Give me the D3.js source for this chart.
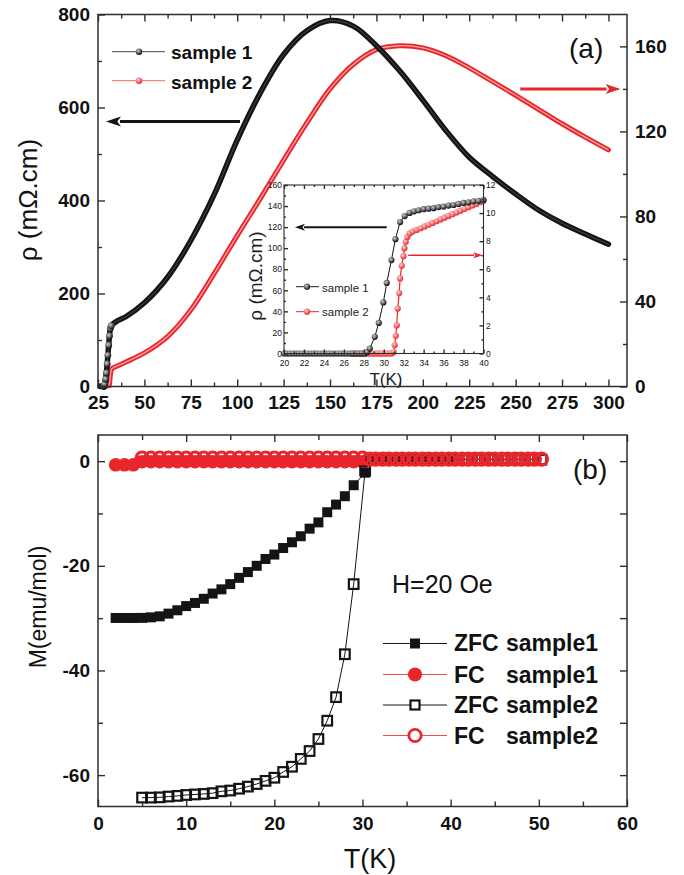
<!DOCTYPE html>
<html><head><meta charset="utf-8">
<script src="https://cdn.jsdelivr.net/npm/d3@7"></script>
<style>body{margin:0;background:#fff}svg{display:block}text{font-family:"Liberation Sans",Arial,Helvetica,sans-serif}</style>
</head><body><svg id="c" width="684" height="875"></svg>
<script>
// ---------- DATA ----------
// Panel (a): resistivity, sample 1 (left axis, mOhm.cm)
const mainT1 = [26,27,28.1,28.35,28.6,29.1,29.5,29.96,30.3,30.77,31.17,31.64,32.1,35,40,50,62.5,75,87.5,100,112.5,125,137.5,150,162.5,175,187.5,200,212.5,225,237.5,250,262.5,275,287.5,300];
const mainRho1 = [0,0,0,1.5,4.7,15.8,29,48.5,67,88.7,108.6,124.8,130.5,140,150,180,235,314,412,530,632,714,765,787,775,733,679,616,550,493,452,414,379,351,328,306];
// Panel (a): resistivity, sample 2 (right axis)
const mainT2 = [26,28,30,31,31.1,31.3,31.55,31.8,32.07,32.4,33.3,40,50,62.5,75,87.5,100,112.5,125,137.5,150,162.5,175,187.5,200,212.5,225,237.5,250,262.5,275,287.5,300];
const mainRho2 = [0.4,0.4,0.4,0.4,0.6,2,4.3,6.25,7.5,8.3,8.8,11.5,15.8,23.5,36,53,71,88.5,106.5,124,140,151.5,158.5,160.3,159.3,155.6,149.9,143.5,137.0,130.3,123.6,117.3,111.3];
// Inset: sample 1 (left axis)
const insT1 = [20.0,20.3,20.6,20.9,21.2,21.5,21.8,22.1,22.4,22.7,23.0,23.3,23.6,23.9,24.2,24.5,24.8,25.1,25.4,25.7,26.0,26.3,26.6,26.9,27.2,27.5,27.8,28.1,28.35,28.6,29.1,29.5,29.96,30.3,30.77,31.17,31.64,32.1,32.6,33.05,33.5,34.0,34.5,35.0,35.5,36.0,36.5,37.0,37.5,38.0,38.5,39.0,39.5,40.0];
const insRho1 = [0,0,0,0,0,0,0,0,0,0,0,0,0,0,0,0,0,0,0,0,0,0,0,0,0,0,0,0,1.5,4.7,15.8,29,48.5,67,88.7,108.6,124.8,130.5,133.5,135,136,137,137.5,138,139,139.5,140.5,141,142,143,143.5,144.5,145,146];
// Inset: sample 2 (right axis)
const insT2 = [26.8,27.0,27.2,27.4,27.6,27.8,28.0,28.2,28.4,28.6,28.8,29.0,29.2,29.4,29.6,29.8,30.0,30.2,30.4,30.6,30.8,31.0,31.1,31.2,31.3,31.4,31.55,31.64,31.8,31.97,32.07,32.2,32.37,32.6,32.9,33.3,33.7,34.1,34.5,34.9,35.3,35.7,36.1,36.5,36.9,37.3,37.7,38.1,38.5,38.9,39.3,39.7,40.0];
const insRho2 = [0,0,0,0,0,0,0,0,0,0,0,0,0,0,0,0,0,0,0,0,0,0.1,0.6,1.26,2.0,3.2,4.3,5.35,6.25,6.93,7.5,7.95,8.3,8.55,8.68,8.8,8.92,9.05,9.17,9.3,9.42,9.55,9.67,9.8,9.92,10.04,10.17,10.29,10.42,10.54,10.66,10.79,10.88];
// Panel (b): magnetisation
const zfc1T = [2,3,4,5,6,7,8,9,10,11,12,13,14,15,16,17,18,19,20,21,22,23,24,25,26,27,28,29,30.3,30.8,31.5,32.3,33.0,33.8,34.5,35.3,36.0,36.8,37.5,38.3,39.0,39.8];
const zfc1M = [-29.97,-29.97,-29.97,-29.95,-29.85,-29.66,-29.14,-28.5,-27.7,-27.1,-26.3,-25.3,-24.5,-23.5,-22.3,-21.2,-20.0,-18.7,-17.85,-16.6,-15.5,-14.35,-12.9,-11.7,-9.76,-8.3,-6.7,-4.6,-2.2,0.3,0.3,0.3,0.3,0.3,0.3,0.3,0.3,0.3,0.3,0.3,0.3,0.3];
const fc1T = [2,3,4,5,6,7,8,9,10,11,12,13,14,15,16,17,18,19,20,21,22,23,24,25,26,27,28,29,30];
const fc1M = [-0.7,-0.7,-0.7,-0.1,-0.1,-0.1,-0.1,-0.1,-0.1,-0.1,-0.1,-0.1,-0.1,-0.1,-0.1,-0.1,-0.1,-0.1,-0.1,-0.1,-0.1,-0.1,-0.1,-0.1,-0.1,-0.1,-0.1,-0.1,-0.1];
const zfc2T = [5,6,7,8,9,10,11,12,13,14,15,16,17,18,19,20,21,22,23,24,25,26,27,28,29,30.3,30.8,31.5,32.3,33.0,33.8,34.5,35.3,36.0,36.8,37.5,38.3,39.0,39.8,40.5,41.3,42.0,42.8,43.5,44.3,45.0,45.8,46.5,47.3,48.0,48.8,49.5,50.3];
const zfc2M = [-64.3,-64.3,-64.25,-64.1,-63.97,-63.8,-63.7,-63.6,-63.45,-63.1,-62.95,-62.6,-62.2,-61.7,-61.1,-60.5,-59.4,-58.4,-56.9,-55.4,-53.1,-49.6,-45.1,-36.9,-23.5,-1.8,0.3,0.3,0.3,0.3,0.3,0.3,0.3,0.3,0.3,0.3,0.3,0.3,0.3,0.3,0.3,0.3,0.3,0.3,0.3,0.3,0.3,0.3,0.3,0.3,0.3,0.3,0.3];
const fc2T = [5,6,7,8,9,10,11,12,13,14,15,16,17,18,19,20,21,22,23,24,25,26,27,28,29,30,30.8,31.5,32.3,33.0,33.8,34.5,35.3,36.0,36.8,37.5,38.3,39.0,39.8,40.5,41.3,42.0,42.8,43.5,44.3,45.0,45.8,46.5,47.3,48.0,48.8,49.5,50.3];
const fc2M = [0.6,0.6,0.6,0.6,0.6,0.6,0.6,0.6,0.6,0.6,0.6,0.6,0.6,0.6,0.6,0.6,0.6,0.6,0.6,0.6,0.6,0.6,0.6,0.6,0.6,0.6,0.4,0.4,0.4,0.4,0.4,0.4,0.4,0.4,0.4,0.4,0.4,0.4,0.4,0.4,0.4,0.4,0.4,0.4,0.4,0.4,0.4,0.4,0.4,0.4,0.4,0.4,0.4];
// Tick values
const aXMajor = [25,50,75,100,125,150,175,200,225,250,275,300];
const aXMinor = [37.5,62.5,87.5,112.5,137.5,162.5,187.5,212.5,237.5,262.5,287.5];
const aYLMajor = [0,200,400,600,800], aYLMinor = [100,300,500,700];
const aYRMajor = [0,40,80,120,160], aYRMinor = [20,60,100,140];
const iXMajor = [20,22,24,26,28,30,32,34,36,38,40], iXMinor = [21,23,25,27,29,31,33,35,37,39];
const iYLMajor = [0,20,40,60,80,100,120,140,160], iYLMinor = [10,30,50,70,90,110,130,150];
const iYRMajor = [0,2,4,6,8,10,12], iYRMinor = [1,3,5,7,9,11];
const bXMajor = [0,10,20,30,40,50,60], bXMinor = [5,15,25,35,45,55];
const bYMajor = [0,-20,-40,-60], bYMinor = [-10,-30,-50];
const legendA = ["sample 1","sample 2"];
const legendB = [["ZFC","sample1"],["FC","sample1"],["ZFC","sample2"],["FC","sample2"]];

// ---------- SETUP ----------
const svg = d3.select("#c");
const RED = "#e8262b", INK = "#141414", FRAME = "#2e2e2e";
const defs = svg.append("defs");
function sphere(id,c0,c1){const g=defs.append("radialGradient").attr("id",id).attr("cx","38%").attr("cy","35%").attr("r","65%");g.append("stop").attr("offset","0%").attr("stop-color",c0);g.append("stop").attr("offset","100%").attr("stop-color",c1);}
sphere("gBlack","#cfcfcf","#0d0d0d");
sphere("gRed","#ffd4d4","#e8262b");

function axis(g, gen, scale, vals, len, fmt, pad, size, weight){
  const a = gen(scale).tickValues(vals).tickSizeInner(-len).tickSizeOuter(0).tickPadding(pad).tickFormat(fmt||(()=>""));
  g.call(a);
  g.select(".domain").remove();
  g.selectAll(".tick line").attr("stroke",FRAME).attr("stroke-width",1.4);
  g.selectAll(".tick text").attr("fill","#111").style("font-size",size+"px").style("font-weight",weight||"bold").attr("font-family",null);
  return g;
}
function arrow(g,x1,y1,x2,y2,color,w,hl,hw){
  const dx=x2-x1, dy=y2-y1, L=Math.hypot(dx,dy), ux=dx/L, uy=dy/L;
  const bx=x2-ux*hl, by=y2-uy*hl;
  g.append("line").attr("x1",x1).attr("y1",y1).attr("x2",bx+ux*1).attr("y2",by+uy*1).attr("stroke",color).attr("stroke-width",w);
  g.append("path").attr("d",`M${x2},${y2}L${bx-uy*hw/2},${by+ux*hw/2}L${bx+ux*hl*0.25},${by+uy*hl*0.25}L${bx+uy*hw/2},${by-ux*hw/2}Z`).attr("fill",color);
}

// ---------- PANEL (a) ----------
const A = {l:98,r:627,t:14.5,b:386.5};
const xA = d3.scaleLinear().domain([25,310]).range([A.l,A.r]);
const yAL = d3.scaleLinear().domain([0,800]).range([A.b,A.t]);
const yAR = d3.scaleLinear().domain([0,175]).range([A.b,A.t]);
const gA = svg.append("g");

const d1 = mainT1.map((t,i)=>[t,mainRho1[i]]);
const d2 = mainT2.map((t,i)=>[t,mainRho2[i]]);
const line1 = d3.line().x(d=>xA(d[0])).y(d=>yAL(d[1])).curve(d3.curveCatmullRom.alpha(0.5));
const line2 = d3.line().x(d=>xA(d[0])).y(d=>yAR(d[1])).curve(d3.curveCatmullRom.alpha(0.5));
gA.append("path").attr("d",line2(d2)).attr("fill","none").attr("stroke",RED).attr("stroke-width",5).attr("stroke-linejoin","round").attr("stroke-linecap","round");
gA.append("path").attr("d",line2(d2)).attr("fill","none").attr("stroke","#f6a3a3").attr("stroke-width",1.3);
gA.append("path").attr("d",line1(d1)).attr("fill","none").attr("stroke",INK).attr("stroke-width",5.5).attr("stroke-linejoin","round").attr("stroke-linecap","round");
gA.append("path").attr("d",line1(d1)).attr("fill","none").attr("stroke","#555").attr("stroke-width",0.8);
gA.selectAll(".m1").data(d1.filter(d=>d[0]>28 && d[0]<32.5)).join("circle").attr("cx",d=>xA(d[0])).attr("cy",d=>yAL(d[1])).attr("r",3.4).attr("fill","url(#gBlack)");

// legend (a)
[[0,"#444","url(#gBlack)",51.7,59],[1,"#f06a6a","url(#gRed)",80.7,89]].forEach(([i,lc,f,ym,yb])=>{
  gA.append("line").attr("x1",112).attr("x2",165).attr("y1",ym).attr("y2",ym).attr("stroke",lc).attr("stroke-width",1);
  gA.append("circle").attr("cx",139).attr("cy",ym).attr("r",3.2).attr("fill",f);
  gA.append("text").attr("x",171).attr("y",yb).text(legendA[i]).style("font-size","19px").style("font-weight","bold").attr("fill","#111");
});
// arrows (a)
arrow(gA, xA(101.5), yAL(570), xA(29.3), yAL(570), INK, 3, 15, 10);
arrow(gA, xA(252.5), yAR(140), xA(306.5), yAR(140), RED, 3, 15, 10);
gA.append("text").attr("x",569).attr("y",58).text("(a)").style("font-size","28px").attr("fill","#111");

// ---------- INSET ----------
const I = {l:284,r:483.5,t:185,b:353.5};
const xI = d3.scaleLinear().domain([20,40]).range([I.l,I.r]);
const yIL = d3.scaleLinear().domain([0,160]).range([I.b,I.t]);
const yIR = d3.scaleLinear().domain([0,12]).range([I.b,I.t]);
const gI = svg.append("g");
gI.append("rect").attr("x",I.l).attr("y",I.t).attr("width",I.r-I.l).attr("height",I.b-I.t).attr("fill","#fff");
const i1 = insT1.map((t,i)=>[t,insRho1[i]]);
const i2 = insT2.map((t,i)=>[t,insRho2[i]]);
gI.append("path").attr("d",d3.line().x(d=>xI(d[0])).y(d=>yIR(d[1]))(i2)).attr("fill","none").attr("stroke",RED).attr("stroke-width",1.2);
gI.selectAll(".r2").data(i2).join("circle").attr("cx",d=>xI(d[0])).attr("cy",d=>yIR(d[1])).attr("r",3.1).attr("fill","url(#gRed)");
gI.append("path").attr("d",d3.line().x(d=>xI(d[0])).y(d=>yIL(d[1]))(i1)).attr("fill","none").attr("stroke",INK).attr("stroke-width",1);
gI.selectAll(".r1").data(i1).join("circle").attr("cx",d=>xI(d[0])).attr("cy",d=>yIL(d[1])).attr("r",3.1).attr("fill","url(#gBlack)");
// inset axes
axis(gI.append("g").attr("transform",`translate(0,${I.b})`), d3.axisBottom, xI, iXMajor, 4, d3.format("d"), 6.5, 8.5, "normal");
axis(gI.append("g").attr("transform",`translate(0,${I.b})`), d3.axisBottom, xI, iXMinor, 2);
axis(gI.append("g").attr("transform",`translate(0,${I.t})`), d3.axisTop, xI, iXMajor, 4);
axis(gI.append("g").attr("transform",`translate(0,${I.t})`), d3.axisTop, xI, iXMinor, 2);
axis(gI.append("g").attr("transform",`translate(${I.l},0)`), d3.axisLeft, yIL, iYLMajor, 4, d3.format("d"), 2, 8.5, "normal");
axis(gI.append("g").attr("transform",`translate(${I.l},0)`), d3.axisLeft, yIL, iYLMinor, 2);
axis(gI.append("g").attr("transform",`translate(${I.r},0)`), d3.axisRight, yIR, iYRMajor, 4, d3.format("d"), 2.5, 8.5, "normal");
axis(gI.append("g").attr("transform",`translate(${I.r},0)`), d3.axisRight, yIR, iYRMinor, 2);
gI.append("rect").attr("x",I.l).attr("y",I.t).attr("width",I.r-I.l).attr("height",I.b-I.t).attr("fill","none").attr("stroke",FRAME).attr("stroke-width",1.1);
// inset legend
[[0,"#222","url(#gBlack)",286.7,291.5],[1,RED,"url(#gRed)",311.7,316]].forEach(([i,lc,f,ym,yb])=>{
  gI.append("line").attr("x1",296).attr("x2",319).attr("y1",ym).attr("y2",ym).attr("stroke",lc).attr("stroke-width",1);
  gI.append("circle").attr("cx",307).attr("cy",ym).attr("r",3.1).attr("fill",f);
  gI.append("text").attr("x",322).attr("y",yb).text(legendA[i]).style("font-size","11.5px").attr("fill","#222");
});
arrow(gI, xI(30.3), yIL(120), xI(21.1), yIL(120), INK, 2, 10, 7);
arrow(gI, xI(32.45), yIR(7), xI(39.95), yIR(7), RED, 1.5, 10, 6);
gI.append("text").attr("x",386).attr("y",385).attr("text-anchor","middle").text("T(K)").style("font-size","17px").attr("fill","#222");
gI.append("text").attr("transform","translate(262,276) rotate(-90)").attr("text-anchor","middle").text("ρ (mΩ.cm)").style("font-size","19px").attr("fill","#222");

// panel (a) axes & frame
axis(gA.append("g").attr("transform",`translate(0,${A.b})`), d3.axisBottom, xA, aXMajor, 7, d3.format("d"), 9.5, 19);
axis(gA.append("g").attr("transform",`translate(0,${A.b})`), d3.axisBottom, xA, aXMinor, 4);
axis(gA.append("g").attr("transform",`translate(0,${A.t})`), d3.axisTop, xA, aXMajor, 7);
axis(gA.append("g").attr("transform",`translate(0,${A.t})`), d3.axisTop, xA, aXMinor, 4);
axis(gA.append("g").attr("transform",`translate(${A.l},0)`), d3.axisLeft, yAL, aYLMajor, 7, d3.format("d"), 8, 19);
axis(gA.append("g").attr("transform",`translate(${A.l},0)`), d3.axisLeft, yAL, aYLMinor, 4);
axis(gA.append("g").attr("transform",`translate(${A.r},0)`), d3.axisRight, yAR, aYRMajor, 7, d3.format("d"), 8, 19);
axis(gA.append("g").attr("transform",`translate(${A.r},0)`), d3.axisRight, yAR, aYRMinor, 4);
gA.append("rect").attr("x",A.l).attr("y",A.t).attr("width",A.r-A.l).attr("height",A.b-A.t).attr("fill","none").attr("stroke",FRAME).attr("stroke-width",1.5);
gA.append("text").attr("transform","translate(37,200) rotate(-90)").attr("text-anchor","middle").text("ρ (mΩ.cm)").style("font-size","26px").attr("fill","#111");

// ---------- PANEL (b) ----------
const B = {l:98,r:627,t:435,b:806.5};
const xB = d3.scaleLinear().domain([0,60]).range([B.l,B.r]);
const yB = d3.scaleLinear().domain([-66,5]).range([B.b,B.t]);
const gB = svg.append("g");
const lineB = d3.line().x(d=>xB(d[0])).y(d=>yB(d[1]));
const sFC1 = fc1T.map((t,i)=>[t,fc1M[i]]);
const sZ1 = zfc1T.map((t,i)=>[t,zfc1M[i]]);
const sZ2 = zfc2T.map((t,i)=>[t,zfc2M[i]]);
const sFC2 = fc2T.map((t,i)=>[t,fc2M[i]]);
gB.append("path").attr("d",lineB(sFC1)).attr("fill","none").attr("stroke",RED).attr("stroke-width",1);
gB.selectAll(".fc1").data(sFC1).join("circle").attr("cx",d=>xB(d[0])).attr("cy",d=>yB(d[1])).attr("r",6.8).attr("fill",RED);
gB.append("path").attr("d",lineB(sZ1)).attr("fill","none").attr("stroke",INK).attr("stroke-width",1);
gB.selectAll(".z1").data(sZ1).join("rect").attr("x",d=>xB(d[0])-5).attr("y",d=>yB(d[1])-5).attr("width",10).attr("height",10).attr("fill",INK);
gB.append("path").attr("d",lineB(sZ2)).attr("fill","none").attr("stroke",INK).attr("stroke-width",1);
gB.selectAll(".z2").data(sZ2).join("rect").attr("x",d=>xB(d[0])-4.8).attr("y",d=>yB(d[1])-4.8).attr("width",9.6).attr("height",9.6).attr("fill","none").attr("stroke",INK).attr("stroke-width",2.2);
gB.append("path").attr("d",lineB(sFC2)).attr("fill","none").attr("stroke",RED).attr("stroke-width",1);
gB.selectAll(".fc2").data(sFC2).join("circle").attr("cx",d=>xB(d[0])).attr("cy",d=>yB(d[1])).attr("r",6.0).attr("fill","none").attr("stroke",RED).attr("stroke-width",3.2);

axis(gB.append("g").attr("transform",`translate(0,${B.b})`), d3.axisBottom, xB, bXMajor, 7, d3.format("d"), 10, 19);
axis(gB.append("g").attr("transform",`translate(0,${B.b})`), d3.axisBottom, xB, bXMinor, 5);
axis(gB.append("g").attr("transform",`translate(0,${B.t})`), d3.axisTop, xB, bXMajor, 7);
axis(gB.append("g").attr("transform",`translate(0,${B.t})`), d3.axisTop, xB, bXMinor, 5);
axis(gB.append("g").attr("transform",`translate(${B.l},0)`), d3.axisLeft, yB, bYMajor, 7, d3.format("d"), 8, 19);
axis(gB.append("g").attr("transform",`translate(${B.l},0)`), d3.axisLeft, yB, bYMinor, 5);
axis(gB.append("g").attr("transform",`translate(${B.r},0)`), d3.axisRight, yB, bYMajor, 7);
axis(gB.append("g").attr("transform",`translate(${B.r},0)`), d3.axisRight, yB, bYMinor, 7);
gB.append("rect").attr("x",B.l).attr("y",B.t).attr("width",B.r-B.l).attr("height",B.b-B.t).attr("fill","none").attr("stroke",FRAME).attr("stroke-width",1.5);
gB.selectAll(".tick text").text(function(){return this.textContent.replace("−","-");});

gB.append("text").attr("transform","translate(46,607) rotate(-90)").attr("text-anchor","middle").text("M(emu/mol)").style("font-size","23px").attr("fill","#111");
gB.append("text").attr("x",370).attr("y",868).attr("text-anchor","middle").text("T(K)").style("font-size","27px").attr("fill","#111");
gB.append("text").attr("x",573).attr("y",479).text("(b)").style("font-size","28px").attr("fill","#111");
gB.append("text").attr("x",392).attr("y",592.5).text("H=20 Oe").style("font-size","25px").attr("fill","#111");

// legend (b)
const legY = [643.5,674.5,705,735.5], legB = [651,683,713,744];
legendB.forEach((lab,i)=>{
  const y = legY[i];
  const col = (i%2===0)?INK:"#f04a4a";
  gB.append("line").attr("x1",383).attr("x2",447).attr("y1",y).attr("y2",y).attr("stroke",col).attr("stroke-width",1);
  if(i===0) gB.append("rect").attr("x",410).attr("y",y-5).attr("width",10).attr("height",10).attr("fill",INK);
  if(i===1) gB.append("circle").attr("cx",415).attr("cy",y).attr("r",7).attr("fill",RED);
  if(i===2) gB.append("rect").attr("x",410.5).attr("y",y-4.5).attr("width",9).attr("height",9).attr("fill","#fff").attr("stroke",INK).attr("stroke-width",2.2);
  if(i===3) gB.append("circle").attr("cx",415).attr("cy",y).attr("r",6.2).attr("fill","#fff").attr("stroke",RED).attr("stroke-width",2.8);
  const t = gB.append("text").attr("x",454).attr("y",legB[i]).style("font-size","23px").style("font-weight","bold").attr("fill","#111");
  t.append("tspan").text(lab[0]+" ");
  t.append("tspan").attr("x",506).text(lab[1]);
});
</script></body></html>
